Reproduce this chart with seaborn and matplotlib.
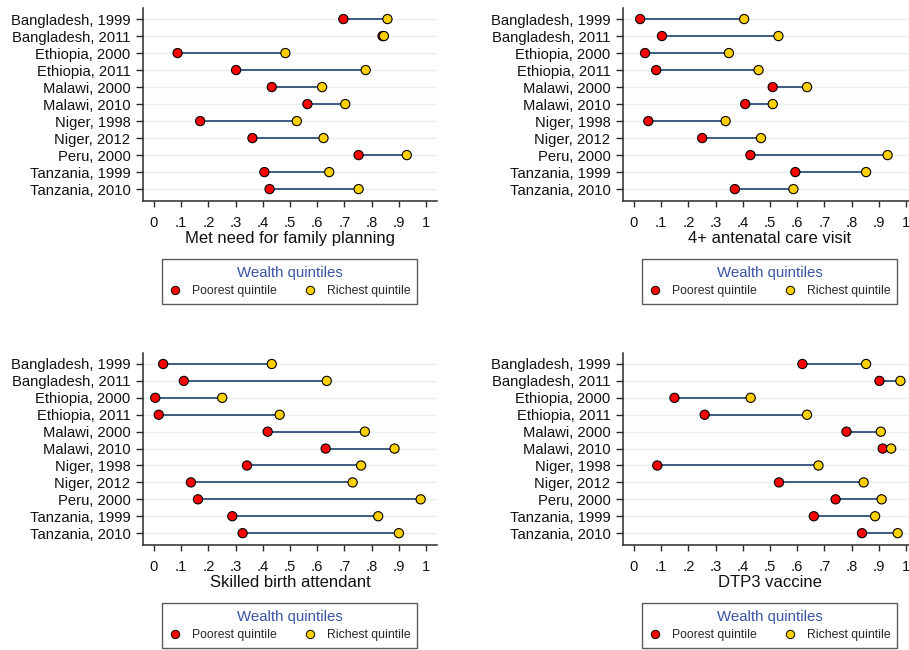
import numpy as np
import pandas as pd
import matplotlib
matplotlib.use("Agg")
import matplotlib.pyplot as plt
from matplotlib.lines import Line2D
import seaborn as sns

# ---------------- data ----------------
surveys = ["Bangladesh, 1999", "Bangladesh, 2011", "Ethiopia, 2000", "Ethiopia, 2011",
           "Malawi, 2000", "Malawi, 2010", "Niger, 1998", "Niger, 2012",
           "Peru, 2000", "Tanzania, 1999", "Tanzania, 2010"]

indicators = ["Met need for family planning", "4+ antenatal care visit",
              "Skilled birth attendant", "DTP3 vaccine"]

fp_poorest = [0.696, 0.840, 0.087, 0.302, 0.433, 0.564, 0.170, 0.362, 0.752, 0.406, 0.425]
fp_richest = [0.858, 0.845, 0.483, 0.778, 0.618, 0.703, 0.525, 0.623, 0.929, 0.644, 0.752]

anc_poorest = [0.023, 0.103, 0.041, 0.082, 0.510, 0.409, 0.053, 0.251, 0.428, 0.593, 0.371]
anc_richest = [0.405, 0.531, 0.349, 0.458, 0.636, 0.510, 0.337, 0.467, 0.932, 0.853, 0.586]

sba_poorest = [0.034, 0.110, 0.005, 0.018, 0.418, 0.631, 0.342, 0.136, 0.162, 0.288, 0.326]
sba_richest = [0.433, 0.635, 0.251, 0.462, 0.775, 0.884, 0.761, 0.730, 0.980, 0.824, 0.900]

dtp_poorest = [0.619, 0.902, 0.149, 0.260, 0.781, 0.914, 0.086, 0.533, 0.741, 0.661, 0.838]
dtp_richest = [0.853, 0.979, 0.429, 0.636, 0.907, 0.945, 0.678, 0.844, 0.910, 0.886, 0.969]

xticks = [0, 0.1, 0.2, 0.3, 0.4, 0.5, 0.6, 0.7, 0.8, 0.9, 1.0]
xtick_labels = ["0", ".1", ".2", ".3", ".4", ".5", ".6", ".7", ".8", ".9", "1"]

legend_title = "Wealth quintiles"
group_labels = ["Poorest quintile", "Richest quintile"]

panel_values = [(fp_poorest, fp_richest), (anc_poorest, anc_richest),
                (sba_poorest, sba_richest), (dtp_poorest, dtp_richest)]

# ---------------- style ----------------
sns.set_theme(style="white")
plt.rcParams["font.family"] = ["Liberation Sans", "DejaVu Sans"]

RED = "#ff0000"
YELLOW = "#ffd000"
LINE = "#3e5b82"
GRID = "#e6f0f2"
SPINE = "#2a2a2a"

W, H = 909, 650
fig = plt.figure(figsize=(W / 100, H / 100), dpi=100)
fig.patch.set_facecolor("white")

def fx(px):
    return px / W

def fy(py):
    return 1 - py / H

# axes boxes in pixels: (left, top, right, bottom)
boxes = [(143, 8, 437, 201), (623, 8, 917, 201),
         (143, 353, 437, 545), (623, 353, 917, 545)]
legend_pos = [(162, 259), (642, 259), (162, 603), (642, 603)]

ypos = np.arange(len(surveys))

for i, (title, (poor, rich)) in enumerate(zip(indicators, panel_values)):
    l, t, r, b = boxes[i]
    ax = fig.add_axes([fx(l), fy(b), fx(r - l), (b - t) / H])
    df = pd.DataFrame({
        "survey": surveys * 2,
        "y": np.concatenate([ypos, ypos]),
        "value": list(poor) + list(rich),
        "group": [group_labels[0]] * len(surveys) + [group_labels[1]] * len(surveys),
    })
    for yv in ypos:
        ax.axhline(yv, color=GRID, lw=1.0, zorder=0)
    ax.hlines(ypos, poor, rich, color=LINE, lw=1.4, zorder=2)
    sns.scatterplot(data=df, x="value", y="y", hue="group",
                    palette={group_labels[0]: RED, group_labels[1]: YELLOW},
                    s=44, edgecolor="black", linewidth=0.8, marker="o",
                    legend=False, ax=ax, zorder=3)
    ax.set_xlim(-0.04, 1.04)
    ax.set_ylim(len(surveys) - 1 + 0.7, -0.65)
    ax.set_yticks(ypos)
    ax.set_yticklabels(surveys, fontsize=10.6, color="#111111")
    ax.set_xticks(xticks)
    ax.set_xticklabels(xtick_labels, fontsize=10.6, color="#111111")
    ax.set_xlabel(title, fontsize=12, color="#111111", labelpad=1)
    ax.set_ylabel("")
    ax.tick_params(axis="y", length=5, width=1.0, color=SPINE, pad=4, left=True)
    ax.tick_params(axis="x", length=4.5, width=1.0, color=SPINE, pad=6, bottom=True)
    for s in ["top", "right"]:
        ax.spines[s].set_visible(False)
    for s in ["left", "bottom"]:
        ax.spines[s].set_color(SPINE)
        ax.spines[s].set_linewidth(1.1)
    ax.grid(False)

    handles = [Line2D([], [], marker="o", ls="", markerfacecolor=RED, markeredgecolor="black",
                      markeredgewidth=0.7, markersize=6),
               Line2D([], [], marker="o", ls="", markerfacecolor=YELLOW, markeredgecolor="black",
                      markeredgewidth=0.7, markersize=6)]
    lx, ly = legend_pos[i]
    leg = ax.legend(handles, group_labels, title=legend_title, ncol=2,
                    loc="upper left", bbox_to_anchor=(fx(lx), fy(ly), fx(255), 0.0),
                    bbox_transform=fig.transFigure, mode="expand",
                    fontsize=8.8, title_fontsize=10.8, frameon=True, fancybox=False,
                    edgecolor="#333333", borderpad=0.55, handletextpad=0.8,
                    columnspacing=2.0, handlelength=1.1, borderaxespad=0)
    leg.get_title().set_color("#3a56a8")
    leg.get_frame().set_linewidth(1.0)
    leg._legend_box.sep = 4

fig.savefig("out.png", dpi=100, facecolor="white")
